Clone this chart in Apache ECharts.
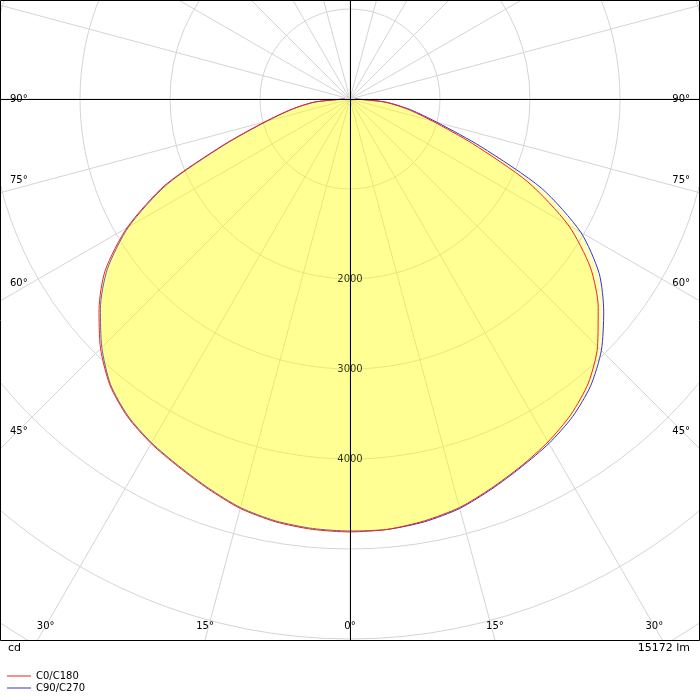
<!DOCTYPE html>
<html><head><meta charset="utf-8">
<script src="https://cdn.jsdelivr.net/npm/echarts@6/dist/echarts.min.js"></script>
<style>html,body{margin:0;padding:0;background:#fff}#c{width:700px;height:700px}</style>
</head><body><div id="c"></div>
<script>
const gammas = [0,5,10,15,20,25,30,35,40,45,50,55,60,65,70,75,80,85,90];
const c0   = [4810,4800,4760,4700,4600,4500,4400,4280,4120,3890,3600,3260,2800,2180,1450,950,650,380,60];
const c180 = [4810,4800,4770,4710,4610,4510,4420,4310,4150,3920,3640,3320,2860,2270,1500,980,660,400,60];
const c90  = [4810,4800,4770,4710,4610,4510,4420,4310,4160,3950,3680,3380,2960,2350,1550,1000,680,400,60];
const c270 = [4800,4790,4760,4700,4600,4500,4410,4300,4140,3900,3620,3290,2840,2240,1480,960,650,390,60];
const radialTicks = [2000,3000,4000];
const sideTicks = [90,75,60,45];
const bottomTicks = [30,15,0];
const lumen = '15172 lm';
const F = 'DejaVu Sans';

function curve(left,right){
  const d=[];
  for(let i=gammas.length-1;i>=0;i--) d.push([left[i],360-gammas[i]]);
  for(let i=1;i<gammas.length;i++) d.push([right[i],gammas[i]]);
  return d;
}
const cx=350, cy=99, W=700, B=640;
const graphics=[
  {type:'rect',shape:{x:0,y:B+1,width:W,height:700-B},style:{fill:'#fff'},z:100},
  {type:'rect',shape:{x:0.5,y:0.5,width:W-1,height:B},style:{fill:'none',stroke:'#000',lineWidth:1},z:101},
  {type:'line',shape:{x1:0,y1:cy+0.5,x2:W,y2:cy+0.5},style:{stroke:'#000',lineWidth:1},z:90},
  {type:'line',shape:{x1:cx+0.5,y1:0,x2:cx+0.5,y2:B},style:{stroke:'#000',lineWidth:1},z:90},
  {type:'text',left:8,top:643,style:{text:'cd',font:'11px '+F,fill:'#000'},z:102},
  {type:'text',right:10,top:643,style:{text:lumen,font:'11px '+F,fill:'#000'},z:102}
];
sideTicks.forEach(g=>{
  const dy = g===90?0:350/Math.tan(g*Math.PI/180);
  const y = cy+dy-(g===90?0:Math.min(18,dy*0.05+8));
  graphics.push({type:'text',x:10,y:y,style:{text:g+'°',font:'10px '+F,fill:'#000',verticalAlign:'middle'},z:102});
  graphics.push({type:'text',x:690,y:y,style:{text:g+'°',font:'10px '+F,fill:'#000',verticalAlign:'middle',align:'right'},z:102});
});
bottomTicks.forEach(g=>{
  let dx=(B-cy)*Math.tan(g*Math.PI/180); if(g===30) dx-=8;
  const xs = g===0?[cx]:[cx-dx,cx+dx];
  xs.forEach(x=>graphics.push({type:'text',x:x,y:626,style:{text:g+'°',font:'10px '+F,fill:'#000',align:'center',verticalAlign:'middle'},z:102}));
});
const chart=echarts.init(document.getElementById('c'));
chart.setOption({
  animation:false,
  polar:{center:[cx,cy],radius:720},
  angleAxis:{type:'value',min:0,max:360,interval:15,startAngle:270,clockwise:false,
    axisLine:{show:false},axisTick:{show:false},axisLabel:{show:false},
    splitLine:{lineStyle:{color:'#d4d4d4',width:1}}},
  radiusAxis:{type:'value',min:0,max:8000,interval:1000,
    axisLine:{show:false},axisTick:{show:false},axisLabel:{show:false},
    splitLine:{lineStyle:{color:'#d4d4d4',width:1}}},
  legend:{orient:'vertical',left:2,top:666,itemGap:2,itemWidth:24,itemHeight:8,z:200,zlevel:1,
    textStyle:{fontFamily:F,fontSize:10,color:'#000'},
    data:[{name:'C0/C180',icon:'path://M0,4L24,4L24,5L0,5Z'},{name:'C90/C270',icon:'path://M0,4L24,4L24,5L0,5Z'}]},
  graphic:graphics,
  series:[
    {name:'C90/C270',type:'line',coordinateSystem:'polar',symbol:'none',smooth:0.25,data:curve(c270,c90),
      lineStyle:{color:'#3333dd',width:1},itemStyle:{color:'#3333dd'},areaStyle:{color:'rgba(255,255,0,0.35)',origin:'start'},z:3},
    {name:'C0/C180',type:'line',coordinateSystem:'polar',symbol:'none',smooth:0.25,data:curve(c180,c0),
      lineStyle:{color:'#ee2222',width:1},itemStyle:{color:'#ee2222'},areaStyle:{color:'rgba(255,255,0,0.35)',origin:'start'},z:4},
    {type:'scatter',coordinateSystem:'polar',symbolSize:0,data:radialTicks.map(v=>[v,0]),z:10,silent:true,
      label:{show:true,position:'inside',formatter:p=>String(p.value[0]),fontFamily:F,fontSize:10,color:'#000'}}
  ]
});
</script></body></html>
